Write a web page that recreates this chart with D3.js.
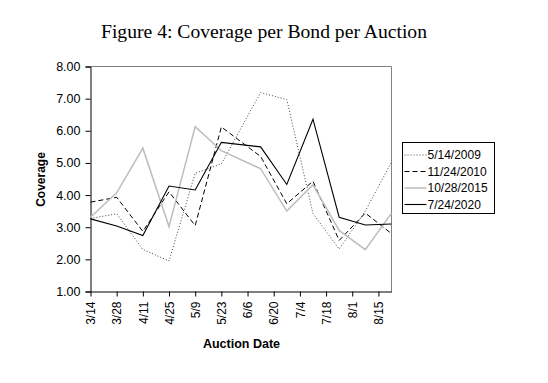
<!DOCTYPE html>
<html>
<head>
<meta charset="utf-8">
<script src="https://cdn.jsdelivr.net/npm/d3@7"></script>
<style>
  html, body { margin: 0; padding: 0; background: #fff; }
  svg { display: block; }
</style>
</head>
<body>
<div id="chart"></div>
<script>
// auction dates (month/day) of each data point
var auctionDates = ["3/14", "3/28", "4/11", "4/25", "5/9", "5/23", "6/13", "6/27", "7/11", "7/25", "8/8", "8/22"];
// tick labels on the date axis
var tickLabels = ["3/14", "3/28", "4/11", "4/25", "5/9", "5/23", "6/6", "6/20", "7/4", "7/18", "8/1", "8/15"];
var yTicks = [1, 2, 3, 4, 5, 6, 7, 8];

var seriesNames = ["5/14/2009", "11/24/2010", "10/28/2015", "7/24/2020"];
var cov2009 = [3.27, 3.42, 2.31, 1.95, 4.68, 4.97, 7.19, 6.97, 3.43, 2.32, 3.5, 5.03];
var cov2010 = [3.78, 3.93, 2.87, 4.1, 3.05, 6.12, 5.2, 3.73, 4.43, 2.59, 3.44, 2.8];
var cov2015 = [3.31, 4.07, 5.46, 3.02, 6.13, 5.38, 4.82, 3.5, 4.32, 2.9, 2.3, 3.44];
var cov2020 = [3.26, 3.04, 2.74, 4.28, 4.16, 5.64, 5.5, 4.33, 6.36, 3.31, 3.07, 3.1];

var parseDate = d3.timeParse("%m/%d/%Y");
function toDate(s) { return parseDate(s + "/2021"); }

var series = [
    { name: seriesNames[0], values: cov2009, color: "#444", width: 1, dash: "1,2" },
    { name: seriesNames[1], values: cov2010, color: "#000", width: 1, dash: "5,3" },
    { name: seriesNames[2], values: cov2015, color: "#bdbdbd", width: 1.5, dash: null },
    { name: seriesNames[3], values: cov2020, color: "#000", width: 1.1, dash: null }
];

var svgWidth = 548, svgHeight = 383;
var plot = { left: 90.5, right: 391.5, top: 66.5, bottom: 291.5 };

var svg = d3.select("#chart").append("svg")
    .attr("width", svgWidth)
    .attr("height", svgHeight);

// title
svg.append("text")
    .attr("x", 264)
    .attr("y", 38)
    .attr("text-anchor", "middle")
    .attr("textLength", 326)
    .attr("lengthAdjust", "spacingAndGlyphs")
    .style("font-family", "'Liberation Serif', 'DejaVu Serif', serif")
    .style("font-size", "19.5px")
    .text("Figure 4: Coverage per Bond per Auction");

// scales
var x = d3.scaleTime()
    .domain([toDate(auctionDates[0]), toDate(auctionDates[auctionDates.length - 1])])
    .range([plot.left, plot.right]);

var y = d3.scaleLinear()
    .domain([1, 8])
    .range([plot.bottom, plot.top]);

// top and right frame in gray
svg.append("path")
    .attr("d", "M" + plot.left + "," + plot.top + "H" + plot.right + "V" + plot.bottom)
    .attr("fill", "none")
    .attr("stroke", "#808080")
    .attr("stroke-width", 1);

// y axis
var yAxis = d3.axisLeft(y)
    .tickValues(yTicks)
    .tickFormat(d3.format(".2f"))
    .tickSize(5)
    .tickPadding(5);

var gy = svg.append("g")
    .attr("transform", "translate(" + plot.left + ",0)")
    .call(yAxis);
gy.select(".domain").attr("stroke", "#000");
gy.selectAll("text")
    .style("font-family", "'Liberation Sans', Arial, sans-serif")
    .style("font-size", "12.5px")
    .attr("fill", "#000");

// x axis
var xAxis = d3.axisBottom(x)
    .tickValues(tickLabels.map(toDate))
    .tickFormat((d, i) => tickLabels[i])
    .tickSize(5)
    .tickSizeOuter(0)
    .tickPadding(5);

var gx = svg.append("g")
    .attr("transform", "translate(0," + plot.bottom + ")")
    .call(xAxis);
gx.selectAll("text")
    .style("font-family", "'Liberation Sans', Arial, sans-serif")
    .style("font-size", "12px")
    .style("text-anchor", "end")
    .attr("fill", "#000")
    .attr("x", -10)
    .attr("y", 0)
    .attr("dy", "0.35em")
    .attr("transform", "rotate(-90)");

// axis titles
svg.append("text")
    .attr("transform", "translate(45,179.5) rotate(-90)")
    .attr("text-anchor", "middle")
    .style("font-family", "'Liberation Sans', Arial, sans-serif")
    .style("font-size", "12px")
    .style("font-weight", "bold")
    .text("Coverage");

svg.append("text")
    .attr("x", 241.5)
    .attr("y", 348)
    .attr("text-anchor", "middle")
    .style("font-family", "'Liberation Sans', Arial, sans-serif")
    .style("font-size", "12.5px")
    .style("font-weight", "bold")
    .text("Auction Date");

// lines
var line = d3.line()
    .x((d, i) => x(toDate(auctionDates[i])))
    .y(d => y(d));

svg.selectAll(".series")
    .data(series)
    .enter().append("path")
    .attr("class", "series")
    .attr("d", d => line(d.values))
    .attr("fill", "none")
    .attr("stroke", d => d.color)
    .attr("stroke-width", d => d.width)
    .attr("stroke-dasharray", d => d.dash);

// legend
var legend = svg.append("g").attr("transform", "translate(402.5,142.5)");
legend.append("rect")
    .attr("width", 92)
    .attr("height", 71)
    .attr("fill", "#fff")
    .attr("stroke", "#000")
    .attr("stroke-width", 1);

var items = legend.selectAll(".item")
    .data(series)
    .enter().append("g")
    .attr("class", "item")
    .attr("transform", (d, i) => "translate(0," + (12.5 + i * 16.5) + ")");

items.append("line")
    .attr("x1", 2)
    .attr("x2", 24)
    .attr("stroke", d => d.color)
    .attr("stroke-width", d => d.width)
    .attr("stroke-dasharray", d => d.dash);

items.append("text")
    .attr("x", 25)
    .attr("dy", "0.35em")
    .style("font-family", "'Liberation Sans', Arial, sans-serif")
    .style("font-size", "12px")
    .text(d => d.name);
</script>
</body>
</html>
